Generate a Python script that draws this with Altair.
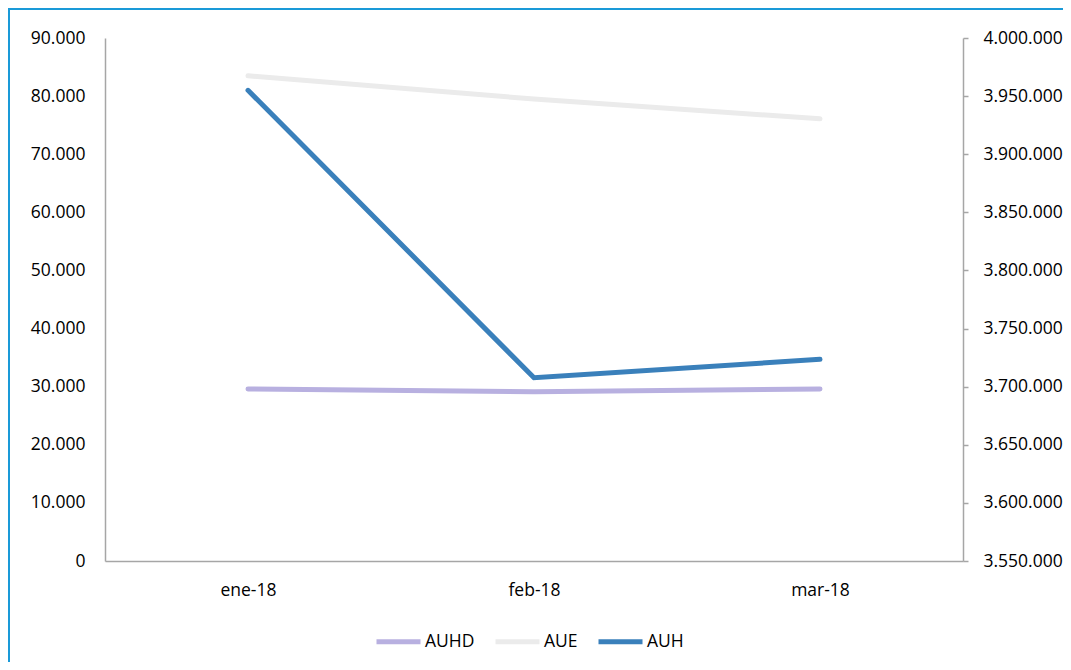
import altair as alt
import pandas as pd

months = ["ene-18", "feb-18", "mar-18"]
auhd = [29600, 29130, 29600]
aue = [83500, 79500, 76100]
auh = [3955000, 3707700, 3723500]

series_order = ["AUHD", "AUE", "AUH"]
series_colors = ["#b8b0e0", "#ebebeb", "#3a80bb"]

left_df = pd.DataFrame({
    "mes": months * 2,
    "serie": ["AUHD"] * 3 + ["AUE"] * 3,
    "valor": auhd + aue,
})
right_df = pd.DataFrame({"mes": months, "serie": ["AUH"] * 3, "valor": auh})
frame_df = pd.DataFrame({"k": [1]})

FONT = "Open Sans"
FS = 17.5
dot_fmt = "replace(format(datum.value, ','), /,/g, '.')"

x_enc = alt.X(
    "mes:N",
    sort=months,
    scale=alt.Scale(type="point", padding=0.5),
    axis=alt.Axis(
        title=None, labelAngle=0, ticks=False, tickSize=0, grid=False,
        domainColor="#a6a6a6", domainWidth=1.5, labelPadding=20,
        labelFontSize=FS, labelFont=FONT, labelColor="#000000",
    ),
)

color_enc = alt.Color(
    "serie:N",
    scale=alt.Scale(domain=series_order, range=series_colors),
    legend=alt.Legend(
        title=None, orient="none", legendX=269, legendY=579, direction="horizontal",
        symbolType="stroke", symbolSize=1936, symbolStrokeWidth=5,
        labelFontSize=FS, labelFont=FONT, labelColor="#000000",
        labelOffset=2, columnPadding=10,
    ),
)

left = alt.Chart(left_df).mark_line(strokeWidth=5, strokeCap="round").encode(
    x=x_enc,
    y=alt.Y(
        "valor:Q",
        scale=alt.Scale(domain=[0, 90000], nice=False),
        axis=alt.Axis(
            title=None, values=list(range(0, 90001, 10000)), ticks=False, tickSize=0,
            grid=False, domainColor="#a6a6a6", domainWidth=1.5, labelPadding=20,
            labelFontSize=FS, labelFont=FONT, labelColor="#000000", labelExpr=dot_fmt,
        ),
    ),
    color=color_enc,
    detail="serie:N",
)

right = alt.Chart(right_df).mark_line(strokeWidth=5, strokeCap="round").encode(
    x=x_enc,
    y=alt.Y(
        "valor:Q",
        scale=alt.Scale(domain=[3550000, 4000000], nice=False, zero=False),
        axis=alt.Axis(
            title=None, orient="right", values=list(range(3550000, 4000001, 50000)),
            ticks=True, tickSize=5, tickColor="#a6a6a6", tickWidth=1.5,
            grid=False, domainColor="#a6a6a6", domainWidth=1.5, labelPadding=15,
            labelFontSize=FS, labelFont=FONT, labelColor="#000000", labelExpr=dot_fmt,
        ),
    ),
    color=color_enc,
)

frame = alt.Chart(frame_df).mark_rect(
    filled=False, stroke="#1a9ad8", strokeWidth=2, clip=False
).encode(
    x=alt.value(-96), x2=alt.value(1000), y=alt.value(-29), y2=alt.value(700)
)

chart = (
    alt.layer(left, right, frame)
    .resolve_scale(y="independent")
    .properties(
        width=858, height=523,
        autosize=alt.AutoSizeParams(type="none"),
        padding={"left": 97, "top": 30, "right": 100, "bottom": 101},
        background="white",
    )
    .configure_view(strokeWidth=0)
)

chart.save("out.html", embed_options={"renderer": "svg", "actions": False})
